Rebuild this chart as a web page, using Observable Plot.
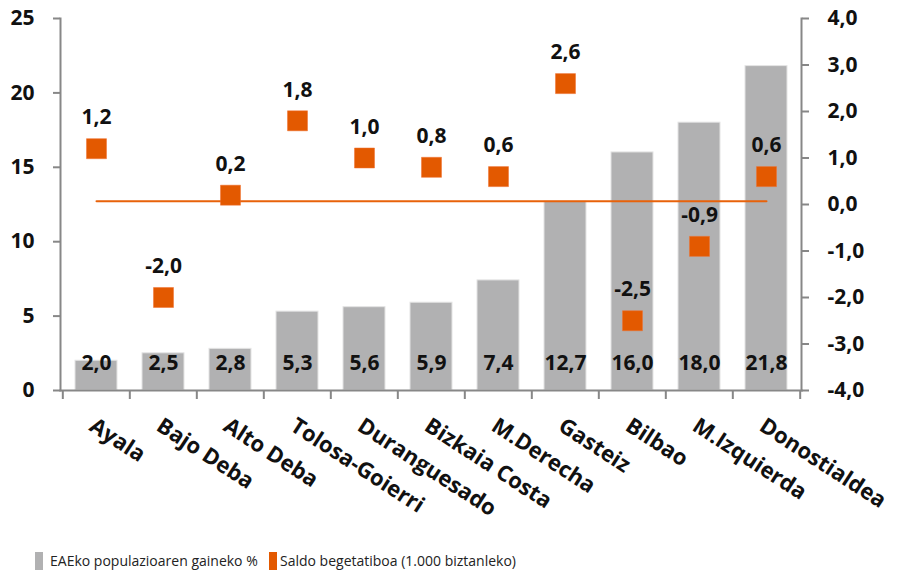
<!DOCTYPE html>
<html>
<head>
<meta charset="utf-8">
<script src="https://cdn.jsdelivr.net/npm/d3@7"></script>
<script src="https://cdn.jsdelivr.net/npm/@observablehq/plot@0.6"></script>
<style>
  html, body { margin: 0; padding: 0; background: #fff; }
  #wrap { width: 901px; height: 572px; overflow: hidden; }
  #chart svg, #legend svg { display: block; }
</style>
</head>
<body>
<div id="wrap">
  <div id="chart"></div>
  <div id="legend"></div>
</div>
<script>
const categories = ["Ayala","Bajo Deba","Alto Deba","Tolosa-Goierri","Duranguesado","Bizkaia Costa","M.Derecha","Gasteiz","Bilbao","M.Izquierda","Donostialdea"];
const populationShare = [2.0, 2.5, 2.8, 5.3, 5.6, 5.9, 7.4, 12.7, 16.0, 18.0, 21.8];
const naturalBalance = [1.2, -2.0, 0.2, 1.8, 1.0, 0.8, 0.6, 2.6, -2.5, -0.9, 0.6];
const leftTicks = [0, 5, 10, 15, 20, 25];
const rightTicks = [-4, -3, -2, -1, 0, 1, 2, 3, 4];
const referenceLine = 0.07;
const seriesNames = ["EAEko populazioaren gaineko %", "Saldo begetatiboa (1.000 biztanleko)"];

const GRAY = "#b1b1b2", ORANGE = "#e35900", AXIS = "#878787";
const FONT = "'Open Sans', sans-serif";

// map right axis (-4..4) onto left axis (0..25)
const toLeft = v => (v + 4) * 25 / 8;
const fromLeft = y => y * 8 / 25 - 4;
const fmt = v => v.toFixed(1).replace(".", ",");

const rows = categories.map((c, i) => ({cat: c, pop: populationShare[i], bal: naturalBalance[i]}));

const W = 901, H = 540;
const step = (W - 60 - 100) / categories.length;

const chart = Plot.plot({
  width: W, height: H,
  marginLeft: 60, marginRight: 100, marginTop: 18, marginBottom: H - 390,
  style: {fontFamily: FONT, fontWeight: "bold", color: "#111", background: "#fff", overflow: "visible"},
  x: {domain: categories, paddingInner: 0.377, paddingOuter: 0.1885, axis: null},
  y: {domain: [0, 25], axis: null},
  marks: [
    Plot.barY(rows, {x: "cat", y: "pop", fill: GRAY, stroke: "#e4e4e4", strokeWidth: 1}),
    Plot.lineY(categories, {x: d => d, y: () => toLeft(referenceLine), stroke: "#e8620a", strokeWidth: 2}),
    Plot.dot(rows, {x: "cat", y: d => toLeft(d.bal), symbol: "square", r: 11.3, fill: ORANGE, stroke: "#f07030", strokeWidth: 0.5}),
    Plot.text(rows, {x: "cat", frameAnchor: "bottom", text: d => fmt(d.pop), dy: -21, fontSize: 21, fontWeight: "bold", fill: "#111"}),
    Plot.text(rows, {x: "cat", y: d => toLeft(d.bal), text: d => fmt(d.bal), dy: -31, fontSize: 21, fontWeight: "bold", fill: "#111"}),
    Plot.text(rows, {x: "cat", frameAnchor: "bottom", text: "cat", rotate: 33, textAnchor: "start", lineAnchor: "top", dx: 0, dy: 26, fontSize: 22, fontWeight: "bold", fill: "#111"}),
    Plot.frame({anchor: "left", stroke: AXIS, strokeWidth: 2}),
    Plot.frame({anchor: "right", stroke: AXIS, strokeWidth: 2}),
    Plot.frame({anchor: "bottom", stroke: AXIS, strokeWidth: 2}),
    Plot.axisY({anchor: "left", ticks: leftTicks, tickSize: 7, tickPadding: 19, stroke: AXIS, strokeWidth: 2, fontSize: 21, fontWeight: "bold", tickFormat: d => String(d), label: null}),
    Plot.axisY({anchor: "right", ticks: rightTicks.map(toLeft), tickSize: 7, tickPadding: 19, stroke: AXIS, strokeWidth: 2, fontSize: 21, fontWeight: "bold", tickFormat: d => fmt(Math.round(fromLeft(d))), label: null}),
    Plot.axisX({anchor: "bottom", tickSize: 9, dx: -step / 2, text: null, stroke: AXIS, strokeWidth: 2, label: null}),
    Plot.axisX({anchor: "bottom", ticks: [categories[categories.length - 1]], tickSize: 9, dx: step / 2, text: null, stroke: AXIS, strokeWidth: 2, label: null})
  ]
});
document.getElementById("chart").appendChild(chart);

// legend below the chart (32px tall)
const legendItems = [
  {name: seriesNames[0], color: GRAY, x: 35, tx: 50},
  {name: seriesNames[1], color: ORANGE, x: 269, tx: 280}
];
const leg = d3.select("#legend").append("svg").attr("width", W).attr("height", 32)
  .style("font-family", FONT);
const g = leg.selectAll("g").data(legendItems).join("g");
g.append("rect").attr("x", d => d.x).attr("y", 12).attr("width", 8).attr("height", 18).attr("fill", d => d.color);
g.append("text").attr("x", d => d.tx).attr("y", 21).attr("dy", "0.35em")
  .attr("font-size", 14).attr("fill", "#222")
  .text(d => d.name);
</script>
</body>
</html>
